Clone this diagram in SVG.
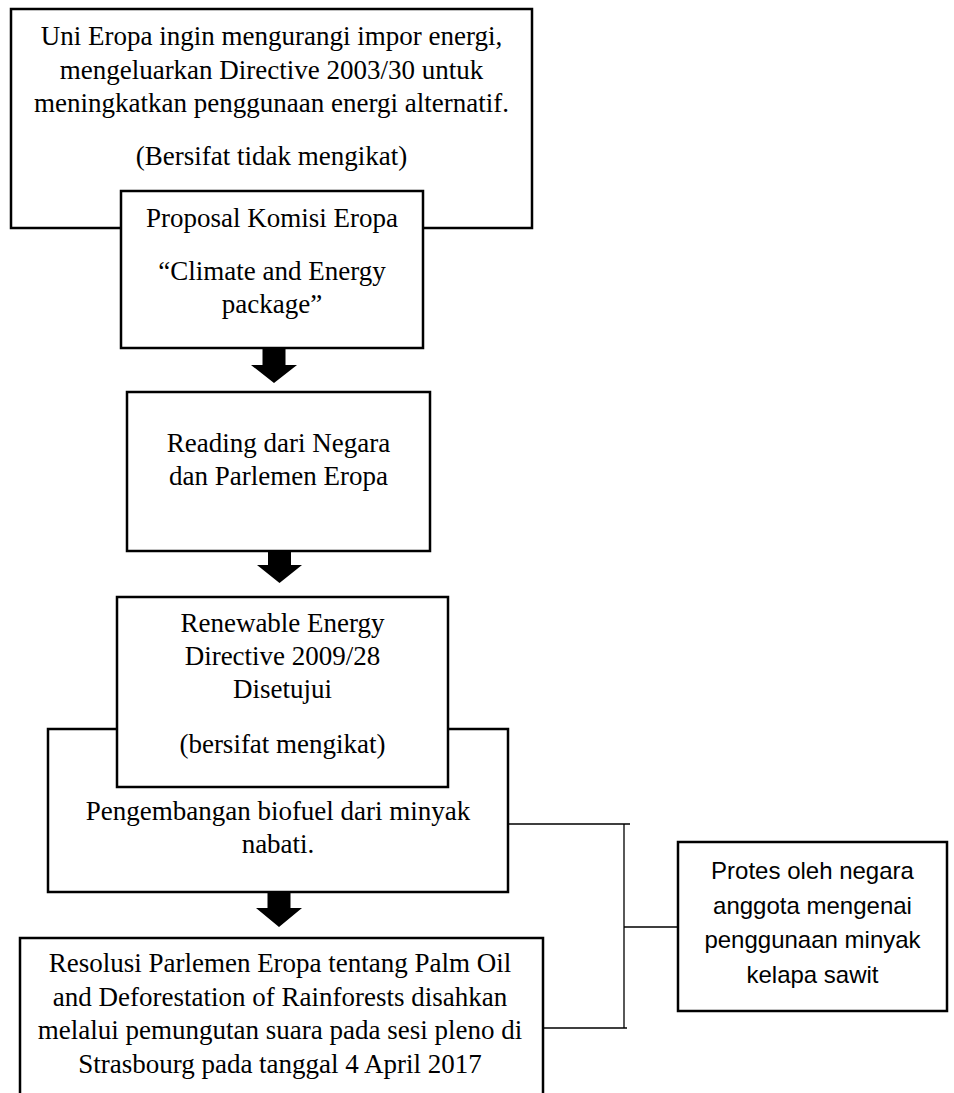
<svg xmlns="http://www.w3.org/2000/svg" width="954" height="1093" viewBox="0 0 954 1093">
<style>
.box{fill:#fff;stroke:#000;stroke-width:2.5}
.t{font-family:"Liberation Serif","Times New Roman",serif;font-size:27px;fill:#000;text-anchor:middle}
.s{font-family:"Liberation Sans",Arial,sans-serif;font-size:24px;fill:#000;text-anchor:middle}
.ln{fill:none;stroke:#000;stroke-width:1.3}
.arr{fill:#000;stroke:none}
</style>
<rect width="954" height="1093" fill="#fff"/>
<g id="n1">
<rect class="box" x="11" y="9" width="521" height="219"/>
<text class="t" x="271.5" y="45">Uni Eropa ingin mengurangi impor energi,</text>
<text class="t" x="271.5" y="78.5">mengeluarkan Directive 2003/30 untuk</text>
<text class="t" x="271.5" y="112">meningkatkan penggunaan energi alternatif.</text>
<text class="t" x="271.5" y="165">(Bersifat tidak mengikat)</text>
</g>
<g id="n2">
<rect class="box" x="121" y="191" width="302" height="157"/>
<text class="t" x="272" y="227">Proposal Komisi Eropa</text>
<text class="t" x="272" y="280">“Climate and Energy</text>
<text class="t" x="272" y="313">package”</text>
</g>
<g id="n3">
<rect class="box" x="127" y="392" width="303" height="159"/>
<text class="t" x="278.5" y="452">Reading dari Negara</text>
<text class="t" x="278.5" y="485">dan Parlemen Eropa</text>
</g>
<g id="n5">
<rect class="box" x="48" y="729" width="460" height="163"/>
<text class="t" x="278" y="820">Pengembangan biofuel dari minyak</text>
<text class="t" x="278" y="853">nabati.</text>
</g>
<g id="n4">
<rect class="box" x="117" y="597" width="331" height="190"/>
<text class="t" x="282.5" y="632">Renewable Energy</text>
<text class="t" x="282.5" y="665">Directive 2009/28</text>
<text class="t" x="282.5" y="698">Disetujui</text>
<text class="t" x="282.5" y="753">(bersifat mengikat)</text>
</g>
<g id="n6">
<rect class="box" x="20" y="938" width="523" height="170"/>
<text class="t" x="280" y="972">Resolusi Parlemen Eropa tentang Palm Oil</text>
<text class="t" x="280" y="1005.5">and Deforestation of Rainforests disahkan</text>
<text class="t" x="280" y="1039">melalui pemungutan suara pada sesi pleno di</text>
<text class="t" x="280" y="1072.5">Strasbourg pada tanggal 4 April 2017</text>
</g>
<g id="n7">
<rect class="box" x="678" y="842" width="269" height="169"/>
<text class="s" x="812.5" y="879">Protes oleh negara</text>
<text class="s" x="812.5" y="913.5">anggota mengenai</text>
<text class="s" x="812.5" y="948">penggunaan minyak</text>
<text class="s" x="812.5" y="982.5">kelapa sawit</text>
</g>
<g id="connectors">
<polygon class="arr" points="262.5,348 285.5,348 285.5,365 297,365 274,383 251,365 262.5,365"/>
<polygon class="arr" points="268,551 291,551 291,565 302,565 279.5,583 257,565 268,565"/>
<polygon class="arr" points="267.5,892 290.5,892 290.5,908 302,908 279,927 256,908 267.5,908"/>
<path class="ln" d="M509 824H630M624 824V1028M544 1028H627M624 927H678"/>
</g>
</svg>
